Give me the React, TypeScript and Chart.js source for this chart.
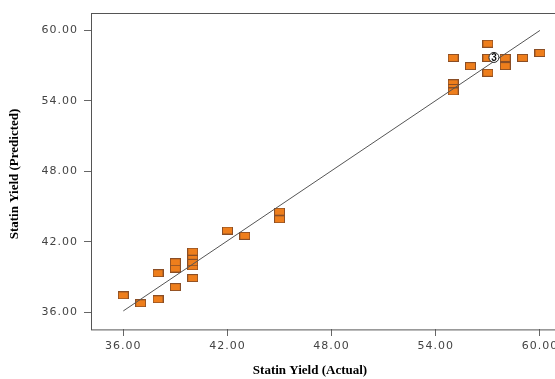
import React, { useEffect, useRef } from "react";
import { Chart, registerables } from "chart.js";

Chart.register(...registerables);

const actualYield = [36, 37, 38, 38, 39, 39, 39, 40, 40, 40, 40, 40, 42, 43, 45, 45, 55, 55, 55, 55, 56, 57, 57, 57, 58, 58, 59, 60];
const predictedYield = [37.43, 36.75, 37.09, 39.32, 38.13, 39.71, 40.25, 38.9, 39.9, 40.25, 40.8, 41.15, 42.95, 42.5, 44.56, 43.91, 55.5, 55.1, 54.8, 57.66, 56.96, 58.87, 57.66, 56.39, 57.66, 56.96, 57.66, 58.08];
const fitLineX = [36, 60];
const fitLineY = [36.1, 60.0];
const overlapLabelX = [57.35];
const overlapLabelY = [57.7];
const overlapLabelText = ["3"];
const tickValues = [36, 42, 48, 54, 60];
const xTitle = "Statin Yield (Actual)";
const yTitle = "Statin Yield (Predicted)";

function makeMarker(): HTMLCanvasElement {
  const c = document.createElement("canvas");
  c.width = 11;
  c.height = 8;
  const g = c.getContext("2d")!;
  g.fillStyle = "#EE7E1C";
  g.fillRect(0.5, 0.5, 10, 7);
  g.strokeStyle = "#8A4E26";
  g.lineWidth = 1;
  g.strokeRect(0.5, 0.5, 10, 7);
  return c;
}

export default function App() {
  const ref = useRef<HTMLCanvasElement>(null);
  useEffect(() => {
    document.body.style.margin = "0";
    const marker = makeMarker();
    const framePlugin = {
      id: "frame",
      beforeDraw(chart: any) {
        (chart.ctx as any).letterSpacing = "1px";
      },
      afterDraw(chart: any) {
        const { ctx, chartArea } = chart;
        ctx.save();
        (ctx as any).letterSpacing = "0px";
        ctx.strokeStyle = "#555";
        ctx.lineWidth = 1;
        ctx.strokeRect(Math.round(chartArea.left) + 0.5, Math.round(chartArea.top) + 0.5, chartArea.right - chartArea.left, chartArea.bottom - chartArea.top);
        const xs = chart.scales.x, ys = chart.scales.y;
        overlapLabelX.forEach((vx, i) => {
          const px = xs.getPixelForValue(vx);
          const py = ys.getPixelForValue(overlapLabelY[i]);
          ctx.beginPath();
          ctx.arc(px, py, 5, 0, Math.PI * 2);
          ctx.fillStyle = "#fff";
          ctx.fill();
          ctx.strokeStyle = "#222";
          ctx.stroke();
          ctx.fillStyle = "#111";
          ctx.font = "bold 10px 'Liberation Sans'";
          ctx.textAlign = "center";
          ctx.textBaseline = "middle";
          ctx.fillText(overlapLabelText[i], px, py + 0.5);
        });
        ctx.fillStyle = "#000";
        ctx.font = "bold 13px 'Liberation Serif'";
        ctx.textAlign = "center";
        ctx.textBaseline = "middle";
        ctx.fillText(xTitle, 310, 371);
        ctx.translate(15, 174);
        ctx.rotate(-Math.PI / 2);
        ctx.fillText(yTitle, 0, 0);
        ctx.restore();
      },
    };
    const tickFont = { family: "'DejaVu Sans'", size: 11 };
    const chart = new Chart(ref.current!, {
      type: "scatter",
      data: {
        datasets: [
          {
            type: "line",
            data: fitLineX.map((x, i) => ({ x, y: fitLineY[i] })),
            borderColor: "#555",
            borderWidth: 1,
            pointRadius: 0,
            fill: false,
          } as any,
          {
            data: actualYield.map((x, i) => ({ x, y: predictedYield[i] })),
            pointStyle: marker,
            pointRadius: 5,
          },
        ],
      },
      plugins: [framePlugin],
      options: {
        responsive: false,
        animation: false,
        layout: { padding: { top: 11, right: 20, left: 0, bottom: 0 } },
        plugins: { legend: { display: false }, tooltip: { enabled: false } },
        scales: {
          x: {
            type: "linear",
            min: 34.14,
            max: 63.46,
            afterBuildTicks: (s: any) => { s.ticks = tickValues.map((v) => ({ value: v })); },
            afterFit: (s: any) => { s.height = 50; },
            grid: { drawOnChartArea: false, drawTicks: true, tickLength: 7, color: "#666" },
            border: { display: false },
            ticks: {
              padding: 4,
              color: "#444",
              font: tickFont,
              callback: (v: any) => Number(v).toFixed(2),
            },
          },
          y: {
            type: "linear",
            min: 34.56,
            max: 61.52,
            afterBuildTicks: (s: any) => { s.ticks = tickValues.map((v) => ({ value: v })); },
            afterFit: (s: any) => { s.width = 91; },
            grid: { drawOnChartArea: false, drawTicks: true, tickLength: 7, color: "#666" },
            border: { display: false },
            ticks: {
              padding: 6,
              color: "#444",
              font: tickFont,
              callback: (v: any) => Number(v).toFixed(2),
            },
          },
        },
      },
    });
    return () => chart.destroy();
  }, []);
  return (
    <div style={{ position: "fixed", left: 0, top: 0, width: 555, height: 379, overflow: "hidden", background: "#fff" }}>
      <canvas ref={ref} width={620} height={379} style={{ width: 620, height: 379, display: "block" }} />
    </div>
  );
}
